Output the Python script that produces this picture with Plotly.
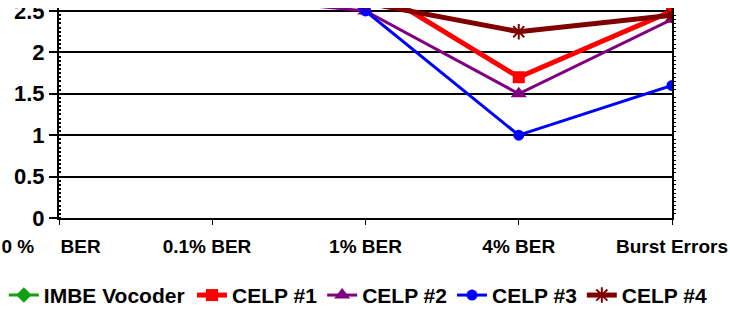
import plotly.graph_objects as go

NB = "\u00a0"
categories = ["0" + NB + "%" + NB * 5 + "BER" + NB * 3, "0.1% BER" + NB * 2, "1% BER", "4% BER", "Burst Errors"]
imbe = [3.7, 3.6, 3.5, 3.2, 3.3]
celp1 = [3.6, 3.4, 2.83, 1.7, 2.5]
celp2 = [3.5, 2.68, 2.5, 1.5, 2.4]
celp3 = [3.6, 3.5, 2.5, 1.0, 1.6]
celp4 = [3.3, 2.9, 2.6, 2.25, 2.45]

series = [
    ("IMBE Vocoder", imbe, "#10a010", "diamond", 12, 3, "legend"),
    ("CELP #1", celp1, "#ff0000", "square", 12, 5, "legend2"),
    ("CELP #2", celp2, "#800080", "triangle-up", 14, 3, "legend2"),
    ("CELP #3", celp3, "#0000ff", "circle", 11, 3, "legend2"),
    ("CELP #4", celp4, "#800000", "asterisk-open", 13, 5, "legend2"),
]

fig = go.Figure()
for name, vals, color, sym, size, lw, lg in series:
    marker = dict(symbol=sym, size=size, color=color)
    if sym == "asterisk-open":
        marker["line"] = dict(color=color, width=2)
    fig.add_trace(go.Scatter(
        x=categories, y=vals, name=name, mode="lines+markers", legend=lg,
        line=dict(color=color, width=lw), marker=marker, cliponaxis=True,
    ))

fig.add_trace(go.Scatter(x=categories, y=[None]*5, yaxis="y2", showlegend=False, hoverinfo="skip"))

font_family = "Liberation Sans, Arial, sans-serif"
YTOP = 2.536
leg_common = dict(orientation="h", xanchor="left", y=-0.271, yanchor="top",
                  font=dict(size=21, family=font_family, weight="bold"),
                  itemwidth=30, tracegroupgap=0, bgcolor="rgba(0,0,0,0)")
fig.update_layout(
    width=730, height=312,
    margin=dict(l=59, r=58, t=8, b=94, autoexpand=False),
    paper_bgcolor="white", plot_bgcolor="white",
    font=dict(family=font_family, color="black", weight="bold"),
    xaxis=dict(
        type="category", range=[0, 4], showgrid=False, automargin=False,
        showline=True, linecolor="black", linewidth=2,
        ticks="outside", ticklen=5, tickcolor="black",
        tickfont=dict(size=19, family=font_family, weight="bold"),
        ticklabelstandoff=5, ticklabeloverflow="allow",
    ),
    yaxis=dict(
        range=[0, YTOP], tickvals=[0, 0.5, 1, 1.5, 2, 2.5], automargin=False,
        ticktext=["0", "0.5", "1", "1.5", "2", "2.5"],
        showgrid=True, gridcolor="black", gridwidth=1.5,
        showline=True, linecolor="black", linewidth=2,
        ticks="outside", ticklen=8, tickcolor="black", tickwidth=1.5,
        tickfont=dict(size=22, family=font_family, weight="bold"),
        zeroline=False, ticklabeloverflow="allow",
        minor=dict(ticks="inside", ticklen=2, dtick=0.05, tickcolor="black", showgrid=False),
    ),
    yaxis2=dict(
        overlaying="y", side="right", range=[0, YTOP], showgrid=False, automargin=False,
        showline=True, linecolor="black", linewidth=1.5,
        showticklabels=False, ticks="", zeroline=False,
        minor=dict(ticks="outside", ticklen=2, dtick=0.05, tickcolor="black", showgrid=False),
    ),
    legend=dict(x=-0.09, **leg_common),
    legend2=dict(x=0.217, **leg_common),
    shapes=[dict(type="rect", xref="paper", yref="paper", x0=-0.2, x1=1.2, y0=1.0, y1=1.06,
                 fillcolor="white", line=dict(width=0), layer="above")],
    showlegend=True,
)

fig.write_html("out.html", config={"displayModeBar": False},
               post_script="document.body.style.margin='0px';document.body.style.overflow='hidden';")
